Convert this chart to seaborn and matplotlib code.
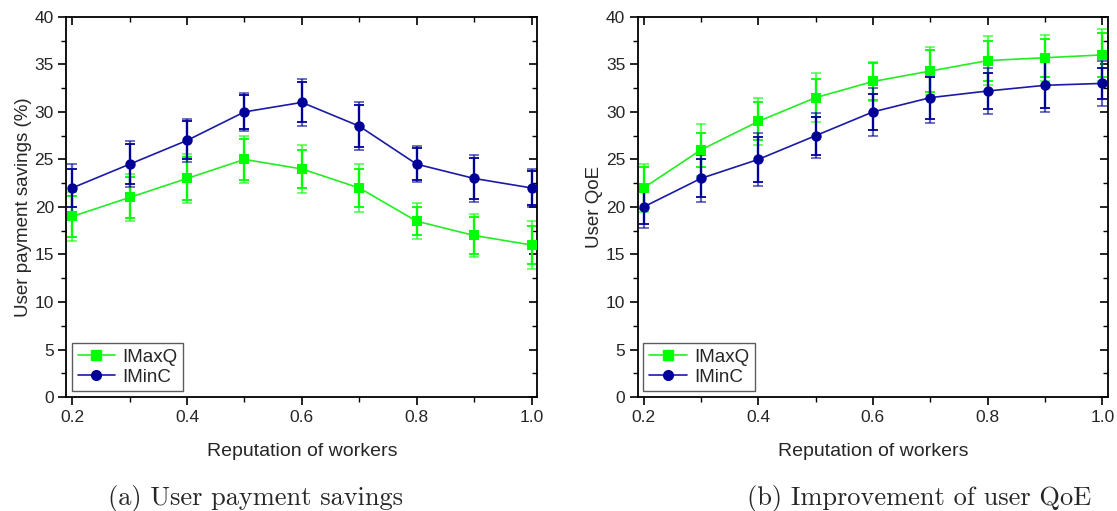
import numpy as np
import pandas as pd
import matplotlib
matplotlib.use("Agg")
import matplotlib.pyplot as plt
import seaborn as sns
from matplotlib.ticker import MultipleLocator

# ---- data ----
reputation = [0.2, 0.3, 0.4, 0.5, 0.6, 0.7, 0.8, 0.9, 1.0]

savings_imaxq = [19.0, 21.0, 23.0, 25.0, 24.0, 22.0, 18.5, 17.0, 16.0]
savings_imaxq_err_in = [2.2, 2.2, 2.3, 2.2, 2.0, 2.0, 1.5, 1.9, 2.0]
savings_imaxq_err_out = [2.6, 2.5, 2.6, 2.5, 2.5, 2.5, 1.9, 2.3, 2.5]

savings_iminc = [22.0, 24.5, 27.0, 30.0, 31.0, 28.5, 24.5, 23.0, 22.0]
savings_iminc_err_in = [2.0, 2.1, 2.0, 1.8, 2.1, 2.2, 1.7, 2.2, 1.8]
savings_iminc_err_out = [2.5, 2.4, 2.3, 2.0, 2.5, 2.5, 1.9, 2.5, 2.0]

qoe_imaxq = [22.0, 26.0, 29.0, 31.5, 33.2, 34.3, 35.4, 35.7, 36.0]
qoe_imaxq_err_in = [2.2, 1.8, 2.0, 2.0, 1.9, 2.2, 2.1, 2.0, 2.3]
qoe_imaxq_err_out = [2.5, 2.7, 2.5, 2.6, 2.0, 2.5, 2.6, 2.4, 2.7]

qoe_iminc = [20.0, 23.0, 25.0, 27.5, 30.0, 31.5, 32.2, 32.8, 33.0]
qoe_iminc_err_in = [1.8, 2.0, 2.4, 2.0, 1.9, 2.2, 1.9, 2.4, 1.6]
qoe_iminc_err_out = [2.2, 2.5, 2.8, 2.4, 2.5, 2.7, 2.4, 2.8, 2.4]

series_names = ["IMaxQ", "IMinC"]
x_label = "Reputation of workers"
y_labels = ["User payment savings (%)", "User QoE"]
captions = ["(a) User payment savings", "(b) Improvement of user QoE"]

# ---- styling ----
sns.set_theme(style="white")
plt.rcParams["font.family"] = ["Liberation Sans", "DejaVu Sans"]

colors = {"IMaxQ": "#00ff00", "IMinC": "#000099"}
line_colors = {"IMaxQ": "#22ee22", "IMinC": "#1a1aa6"}
markers = {"IMaxQ": "s", "IMinC": "o"}

fig = plt.figure(figsize=(11.17, 5.11), dpi=100)
ax1 = fig.add_axes([0.0595, 0.223, 0.4215, 0.744])
ax2 = fig.add_axes([0.571, 0.223, 0.421, 0.744])

panels = [
    (ax1, [(savings_imaxq, savings_imaxq_err_in, savings_imaxq_err_out),
           (savings_iminc, savings_iminc_err_in, savings_iminc_err_out)]),
    (ax2, [(qoe_imaxq, qoe_imaxq_err_in, qoe_imaxq_err_out),
           (qoe_iminc, qoe_iminc_err_in, qoe_iminc_err_out)]),
]

for i, (ax, series) in enumerate(panels):
    rows = []
    for name, (vals, _, _) in zip(series_names, series):
        for x, v in zip(reputation, vals):
            rows.append({"x": x, "y": v, "series": name})
    df = pd.DataFrame(rows)
    for name, (vals, ein, eout) in zip(series_names, series):
        ax.errorbar(reputation, vals, yerr=eout, fmt="none", ecolor=colors[name],
                    elinewidth=1.6, capsize=3.4, capthick=1.3, alpha=0.6, zorder=2)
        ax.errorbar(reputation, vals, yerr=ein, fmt="none", ecolor=colors[name],
                    elinewidth=1.6, capsize=3.4, capthick=1.3, zorder=2)
    sns.lineplot(data=df, x="x", y="y", hue="series", style="series",
                 palette=line_colors, markers=markers, dashes=False,
                 markersize=7.5, linewidth=1.2, ax=ax, legend=False, zorder=3,
                 markeredgewidth=0)
    for line, name in zip(ax.lines[-2:], series_names):
        line.set_markerfacecolor(colors[name])
        line.set_markeredgecolor(colors[name])

    ax.set_xlim(0.19, 1.01)
    ax.set_ylim(0, 40)
    ax.set_xticks([0.2, 0.4, 0.6, 0.8, 1.0])
    ax.set_xticklabels(["0.2", "0.4", "0.6", "0.8", "1.0"])
    ax.xaxis.set_minor_locator(MultipleLocator(0.1))
    ax.yaxis.set_major_locator(MultipleLocator(5))
    ax.yaxis.set_minor_locator(MultipleLocator(2.5))
    ax.tick_params(which="both", direction="out", bottom=True, left=True,
                   top=False, right=False, color="black", labelsize=12.5, pad=3)
    ax.tick_params(which="major", length=6, width=1.2)
    ax.tick_params(which="minor", length=3.5, width=1.0)
    for spine in ax.spines.values():
        spine.set_visible(True)
        spine.set_color("black")
        spine.set_linewidth(1.3)
    secx = ax.secondary_xaxis("top")
    secx.set_xticks([0.2, 0.4, 0.6, 0.8, 1.0])
    secx.xaxis.set_minor_locator(MultipleLocator(0.1))
    secx.tick_params(which="both", direction="in", top=True, labeltop=False, color="black")
    secx.tick_params(which="major", length=6, width=1.2)
    secx.tick_params(which="minor", length=3.5, width=1.0)
    secx.spines["top"].set_visible(False)
    secy = ax.secondary_yaxis("right")
    secy.yaxis.set_major_locator(MultipleLocator(5))
    secy.yaxis.set_minor_locator(MultipleLocator(2.5))
    secy.tick_params(which="both", direction="in", right=True, labelright=False, color="black")
    secy.tick_params(which="major", length=6, width=1.2)
    secy.tick_params(which="minor", length=3.5, width=1.0)
    secy.spines["right"].set_visible(False)

    ax.set_xlabel(x_label, fontsize=14, labelpad=13)
    ax.set_ylabel(y_labels[i], fontsize=13.5, labelpad=2)

    handles = [
        plt.Line2D([], [], color=line_colors[n], marker=markers[n], markersize=7,
                   markerfacecolor=colors[n], markeredgecolor=colors[n], linewidth=1.2,
                   alpha=1.0)
        for n in series_names
    ]
    leg = ax.legend(handles, series_names, loc="lower left", fontsize=13.5,
                    frameon=True, fancybox=False, borderaxespad=0.3,
                    handlelength=2.0, handletextpad=0.4, borderpad=0.3,
                    labelspacing=0.15)
    leg.get_frame().set_edgecolor("#333333")
    leg.get_frame().set_linewidth(1.0)

fig.text(0.229, 0.012, captions[0], fontsize=19, family="cmr10", ha="center")
fig.text(0.823, 0.012, captions[1], fontsize=19, family="cmr10", ha="center")

fig.savefig("out.png", dpi=100)
